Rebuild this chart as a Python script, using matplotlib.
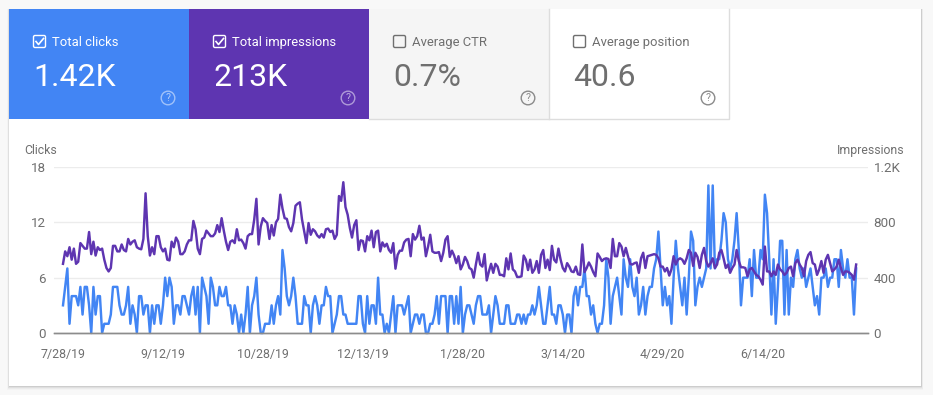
import matplotlib
matplotlib.use("Agg")
import matplotlib.pyplot as plt
from matplotlib.patches import Rectangle, Circle, FancyBboxPatch
import pandas as pd

plt.rcParams['font.family'] = ['Roboto', 'DejaVu Sans']

W, H = 933, 395

# ---- data, one value per day ----
clicks = [
    3,5,7,1,4,4,4,3,5,2, 5,5,3,0,5,2,4,4,0,1, 1,1,2,5,5,5,3,2,2,3, 5,1,3,2,0,4,4,2,3,3,
    0,3,1,3,3,1,3,6,4,6, 5,1,3,3,2,4,4,3,2,4, 5,2,5,0,6,5,4,1,6,5, 3,3,5,4,4,5,3,3,1,3,
    2,0,2,0,2,5,0,3,4,6, 2,0,0,1,1,1,3,1,3,4, 2,9,7,4,3,4,6,4,1,1, 1,4,3,3,0,3,4,3,1,3,
    3,5,4,4,0,1,2,4,4,2, 2,1,1,1,1,1,4,4,1,0, 4,1,3,3,1,6,2,2,0,1, 0,2,4,0,3,3,3,2,3,4,
    0,1,2,2,1,2,2,0,0,1, 1,2,4,1,4,4,4,0,4,4, 1,4,1,5,0,2,3,3,2,1, 3,4,4,2,2,2,3,0,2,4,
    3,1,1,1,3,3,1,1,1,2, 2,1,2,1,2,2,3,2,3,5, 3,1,1,3,5,2,2,1,3,3, 2,0,2,2,0,4,5,3,5,5,
    7,4,4,2,3,1,0,1,1,3, 8,6,1,4,5,6,4,2,8,6, 5,8,5,4,6,2,3,5,2,4, 5,5,7,8,11,7,3,5,3,4,
    1,6,10,7,5,3,6,2,6,11, 10,3,5,6,5,6,7,16,7,16, 7,8,8,10,13,12,8,7,8,10, 13,9,3,6,6,6,8,4,9,6,
    6,9,8,15,13,8,2,8,1,5, 10,10,2,9,2,6,5,8,9,7, 6,7,5,6,7,5,3,4,2,6, 6,7,5,6,6,8,8,5,9,7,
    6,8,6,6,2,7,
]
impressions = [
    500,590,555,620,530,610,500,515,650,630, 610,610,730,570,660,560,620,600,610,530,
    470,445,470,630,630,590,590,640,600,590, 680,640,660,670,620,610,605,680,1010,700,
    560,620,570,700,700,620,590,610,530,525, 660,620,690,660,570,570,590,640,670,670,
    810,750,610,570,680,690,740,720,700,700, 720,780,730,830,740,660,600,660,670,650,
    750,670,675,650,610,700,715,715,820,970, 640,770,830,810,795,680,780,705,800,825,
    1000,900,830,825,765,735,795,920,935,945, 820,735,650,795,710,750,735,705,690,715,
    690,750,755,730,740,680,710,990,955,1090, 910,855,760,690,780,815,600,670,665,590,
    700,670,740,620,730,740,590,655,625,645, 600,580,650,465,565,595,595,655,675,680,
    555,715,675,700,775,675,690,555,625,710, 590,580,580,585,520,580,675,700,550,595,
    560,505,555,460,495,550,520,470,460,400, 495,580,495,480,570,380,445,500,435,500,
    480,420,420,410,540,460,575,460,445,405, 405,410,560,530,455,530,435,460,520,435,
    565,600,470,530,455,630,530,510,610,530, 470,445,505,480,445,440,480,425,420,640,
    440,470,510,480,440,410,575,550,520,535, 540,535,470,680,555,555,650,625,555,615,
    555,500,495,505,510,435,540,580,470,555, 560,565,570,565,540,480,480,445,470,415,
    460,555,495,530,540,530,500,540,600,580, 485,580,550,470,565,615,520,480,505,540,
    470,495,580,600,540,470,495,435,470,495, 600,520,475,475,470,410,460,470,445,420,
    410,385,350,625,445,445,410,445,420,495, 460,445,420,435,470,480,410,505,530,495,
    470,410,520,565,585,505,495,420,460,520, 435,530,565,505,445,460,480,530,470,420,
    445,445,435,420,385,495,
]
dates = pd.date_range("2019-07-28", periods=len(clicks))
tick_dates = ["2019-07-28", "2019-09-12", "2019-10-28", "2019-12-13",
              "2020-01-28", "2020-03-14", "2020-04-29", "2020-06-14"]
tick_labels = ["7/28/19", "9/12/19", "10/28/19", "12/13/19",
               "1/28/20", "3/14/20", "4/29/20", "6/14/20"]
clicks_ticks = [0, 6, 12, 18]
imp_ticks = [0, 400, 800, 1200]
imp_tick_labels = ["0", "400", "800", "1.2K"]

tab_titles = ["Total clicks", "Total impressions", "Average CTR", "Average position"]
tab_values = ["1.42K", "213K", "0.7%", "40.6"]
tab_checked = [True, True, False, False]

BLUE = "#4285f4"
PURPLE = "#5e35b1"
GREY_TXT = "#6f6f6f"

fig = plt.figure(figsize=(W / 100, H / 100), dpi=100, facecolor="#f8f8f8")

# background layer in pixel coordinates
bg = fig.add_axes([0, 0, 1, 1], zorder=0)
bg.set_xlim(0, W)
bg.set_ylim(H, 0)
bg.axis("off")

# card shadow and card
for i, a in zip([4, 3, 2, 1], [0.02, 0.03, 0.05, 0.08]):
    bg.add_patch(Rectangle((9 - i * 0.5, 9), 912 + i, 377 + i, fc="black", ec="none", alpha=a))
bg.add_patch(Rectangle((9, 9), 912, 377, fc="white", ec="none"))

# metric tabs
tab_fc = [BLUE, PURPLE, "#f5f5f5", "white"]
tab_x = [9, 189, 369, 549]
for i in range(4):
    x = tab_x[i]
    bg.add_patch(Rectangle((x, 9), 180, 110, fc=tab_fc[i], ec="none"))
    on = tab_checked[i]
    col = "white" if on else GREY_TXT
    # checkbox
    bg.add_patch(FancyBboxPatch((x + 24.5, 35.5), 12, 12, boxstyle="round,pad=0,rounding_size=1.5",
                                fc="none", ec=col, lw=1.0))
    if on:
        bg.plot([x + 27, x + 29.5, x + 34.5], [41.5, 44.5, 38.5], color=col, lw=1.2)
    bg.text(x + 43, 42.5, tab_titles[i], color=col, fontsize=9.4, va="center", ha="left")
    bg.text(x + 24.5, 78, tab_values[i], color=col, fontsize=23, va="center", ha="left")
    # help icon
    ic = {True: "#ffffff", False: "#8a8a8a"}[on]
    bg.add_patch(Circle((x + 159, 98), 6.8, fc="none", ec=ic, lw=1.0, alpha=0.5 if on else 1))
    bg.text(x + 159, 98.3, "?", color=ic, fontsize=7.5, ha="center", va="center", alpha=0.6 if on else 1)
bg.plot([369, 729, 729], [119, 119, 9], color="#dddddd", lw=1)
bg.plot([549, 549], [9, 119], color="#dddddd", lw=1)

bg.text(24.5, 150.5, "Clicks", color=GREY_TXT, fontsize=8.8, ha="left", va="center")
bg.text(904.5, 150.5, "Impressions", color=GREY_TXT, fontsize=8.8, ha="right", va="center")

# chart: left axis clicks, right axis impressions
ax_l, ax_r, ax_t, ax_b = 54, 868, 167, 333
ax = fig.add_axes([ax_l / W, 1 - ax_b / H, (ax_r - ax_l) / W, (ax_b - ax_t) / H], zorder=1)
ax.patch.set_alpha(0)
ax2 = ax.twinx()

ax.plot(dates, clicks, color=BLUE, lw=1.75, solid_joinstyle="round", clip_on=False)
ax2.plot(dates, impressions, color=PURPLE, lw=1.75, solid_joinstyle="round", clip_on=False)

px_per_day = 2.173
ax.set_xlim(dates[0] - pd.Timedelta(days=(63 - ax_l) / px_per_day),
            dates[0] + pd.Timedelta(days=(ax_r - 63) / px_per_day))
ax.set_ylim(0, 18)
ax2.set_ylim(0, 1200)

ax.set_xticks(pd.to_datetime(tick_dates))
ax.set_xticklabels(tick_labels)
ax.set_yticks(clicks_ticks)
ax2.set_yticks(imp_ticks)
ax2.set_yticklabels(imp_tick_labels)

ax.grid(axis="y", color="#ececec", lw=1)
ax.set_axisbelow(True)
for a in (ax, ax2):
    for s in a.spines.values():
        s.set_visible(False)
    a.spines["bottom"].set_visible(True)
    a.spines["bottom"].set_color("#8c8c8c")
    a.spines["bottom"].set_linewidth(1)
ax.tick_params(axis="x", length=0, pad=11, labelsize=8.9, labelcolor=GREY_TXT)
ax.tick_params(axis="y", length=0, pad=6, labelsize=9.6, labelcolor=GREY_TXT)
ax2.tick_params(axis="y", length=0, pad=4, labelsize=9.6, labelcolor=GREY_TXT)
for t in ax.get_yticklabels():
    t.set_ha("right")

fig.savefig("out.png", dpi=100, facecolor=fig.get_facecolor())
